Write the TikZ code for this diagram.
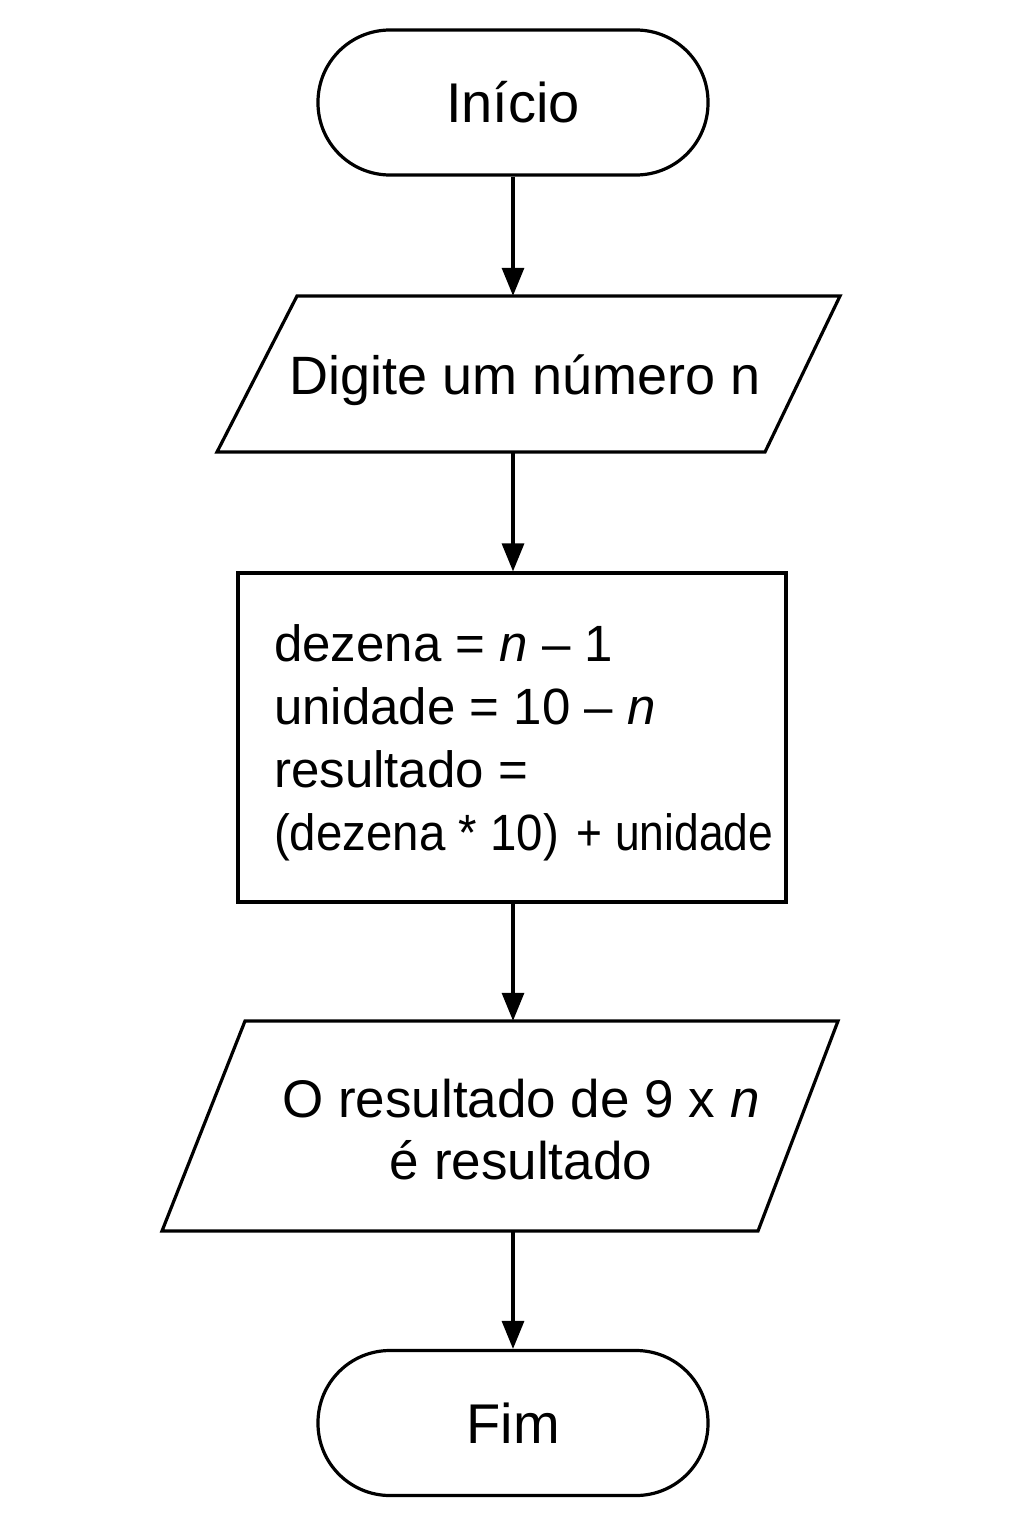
\documentclass[tikz,border=0pt]{standalone}
\usepackage{fontspec}
\setmainfont{Liberation Sans}
\usetikzlibrary{arrows.meta}
\begin{document}
\begin{tikzpicture}[x=1pt,y=-1pt,
  lw/.style={line width=3.2pt},
  term/.style={lw,draw,rectangle,rounded corners=72pt,minimum width=390pt,minimum height=145pt,inner sep=0pt,font=\fontsize{56}{63}\selectfont},
  txt/.style={inner sep=0pt,align=center,font=\fontsize{54}{62}\selectfont},
  procbox/.style={lw,draw,rectangle,minimum width=548pt,minimum height=329pt,inner sep=0pt},
  arr/.style={lw,-{Triangle[width=22pt,length=28pt]}}]
\useasboundingbox (0,0) rectangle (1024,1536);
\fill[white] (0,0) rectangle (1024,1536);
% terminals
\node[term] (start) at (513,102.5) {Início};
\node[term] (fim) at (513,1423) {Fim};
% input parallelogram
\draw[lw,line join=miter] (297,296) -- (840,296) -- (765,452) -- (217,452) -- cycle;
\node[txt,minimum height=156pt] (p1) at (525,374) {\raisebox{-6pt}[\height][\depth]{Digite um número n}};
% process
\node[procbox] (proc) at (512,737.5) {};
\node[anchor=west,inner sep=0pt,align=left,font=\fontsize{51}{63}\selectfont] (proctxt) at (274,743)
  {dezena = \textit{n} – 1\\unidade = 10 – \textit{n}\\resultado =\\\scalebox{0.93}[1]{(dezena * 10)}\hspace{18pt}\scalebox{0.87}[1]{+ unidade}};
% output parallelogram
\draw[lw,line join=miter] (245,1021) -- (838,1021) -- (758,1231) -- (162,1231) -- cycle;
\node[txt,minimum height=210pt,font=\fontsize{53}{62}\selectfont] (p2) at (521,1126) {\raisebox{-10pt}[\height][\depth]{\begin{tabular}{@{}c@{}}O resultado de 9 x \textit{n}\\[-0.2pt]é resultado\end{tabular}}};
% connectors
\draw[arr] (start.south) -- (start.south |- p1.north);
\draw[arr] (start.south |- p1.south) -- (proc.north -| start.south);
\draw[arr] (proc.south -| start.south) -- (start.south |- p2.north);
\draw[arr] (start.south |- p2.south) -- (fim.north);
\end{tikzpicture}
\end{document}
